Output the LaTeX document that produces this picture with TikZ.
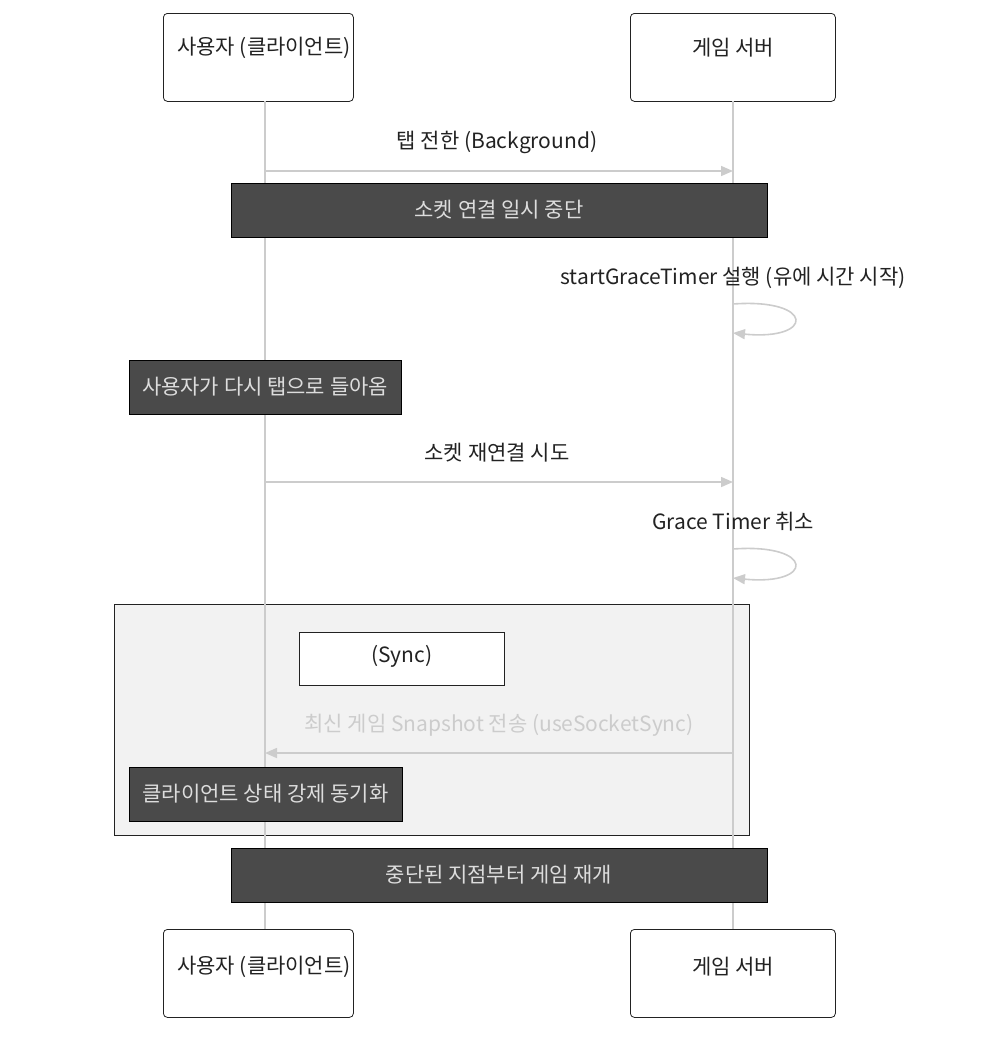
\documentclass[tikz,border=0pt]{standalone}
\usepackage{fontspec}
\setmainfont{Noto Sans CJK KR}
\usepackage{xcolor}
\usetikzlibrary{positioning,arrows.meta,calc}

\definecolor{lifegray}{HTML}{CCCCCC}
\definecolor{notefill}{HTML}{4A4A4A}
\definecolor{notetext}{HTML}{DDDDDD}
\definecolor{groupfill}{HTML}{F2F2F2}
\definecolor{darktext}{HTML}{222222}

\begin{document}
\begin{tikzpicture}[
    x=0.5pt, y=-0.5pt,
    actor/.style={rectangle, draw=darktext, rounded corners=2pt, fill=white,
                  minimum width=95pt, minimum height=44pt},
    actorr/.style={actor, minimum width=102.5pt},
    lbl/.style={font=\fontsize{10.5}{12}\selectfont, text=darktext},
    note/.style={rectangle, draw=black, fill=notefill, text=notetext,
                 font=\fontsize{10.5}{12}\selectfont, minimum height=27pt, inner sep=0pt},
    life/.style={draw=lifegray, line width=1pt},
    msg/.style={-{Triangle[length=6pt, width=5pt]}, draw=lifegray, line width=0.8pt},
  ]
    \useasboundingbox (0,0) rectangle (992,1056);

    % participants
    \node[actor, anchor=north west] (cl) at (163,13) {};
    \node[lbl] at (264,48) {사용자 (클라이언트)};
    \node[actorr, anchor=north west] (sv) at (630,13) {};
    \node[lbl] at (733,48) {게임 서버};
    \node[actor, anchor=north west] (clb) at (163,929) {};
    \node[lbl] (clbl) at (264,967) {사용자 (클라이언트)};
    \node[actorr, anchor=north west] (svb) at (630,929) {};
    \node[lbl] (svbl) at (733,967) {게임 서버};

    % group box
    \node[rectangle, draw=darktext, fill=groupfill, anchor=north west,
          minimum width=317.5pt, minimum height=115.5pt] (grp) at (114,604) {};

    % lifelines
    \draw[life] (265,101) -- (265,929);
    \draw[life] (733,101) -- (733,929);

    \node[rectangle, draw=darktext, fill=white, anchor=north west,
          minimum width=102.5pt, minimum height=26.5pt, lbl] (sync) at (299,632) {};
    \node[lbl] at ($(sync.center)+(0,-3)$) {(Sync)};

    % lifeline points
    \coordinate (c1) at (265,171);
    \coordinate (s1) at (733,171);
    \coordinate (c2) at (265,482);
    \coordinate (s2) at (733,482);
    \coordinate (c3) at (265,753);
    \coordinate (s3) at (733,753);
    \coordinate (la) at (733,304);
    \coordinate (lb) at (733,333);
    \coordinate (lc) at (733,549);
    \coordinate (ld) at (733,578);

    % messages
    \node[lbl] (m1) at (497,142) {탭 전한 (Background)};
    \draw[msg] (c1) -- (s1);
    \node[note, minimum width=268pt] (n1) at (499,210) {\raisebox{1.5pt}{소켓 연결 일시 중단}};
    \node[lbl] (m2) at (733,278) {startGraceTimer 설행 (유에 시간 시작)};
    \draw[msg] (la) .. controls +(82,-6) and +(82,8) .. (lb);
    \node[note, minimum width=136pt] (n2) at (265,387) {\raisebox{1.5pt}{사용자가 다시 탭으로 들아옴}};
    \node[lbl] (m3) at (497,453) {소켓 재연결 시도};
    \draw[msg] (c2) -- (s2);
    \node[lbl] (m4) at (733,522) {Grace Timer 취소};
    \draw[msg] (lc) .. controls +(82,-6) and +(82,8) .. (ld);
    \node[lbl, text=lifegray] (m5) at (499,725) {최신 게임 Snapshot 전송 (useSocketSync)};
    \draw[msg] (s3) -- (c3);
    \node[note, minimum width=136.5pt] (n3) at (265.5,794) {\raisebox{1.5pt}{클라이언트 상태 강제 동기화}};
    \node[note, minimum width=268pt] (n4) at (499,875) {\raisebox{1.5pt}{중단된 지점부터 게임 재개}};
  \end{tikzpicture}
\end{document}
